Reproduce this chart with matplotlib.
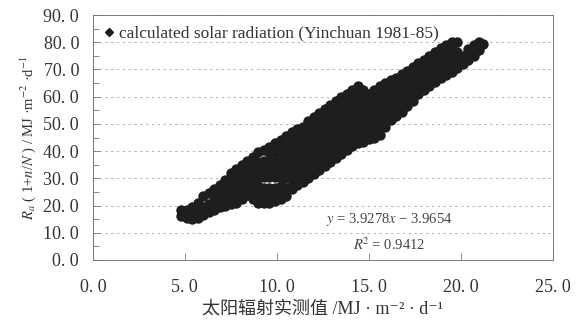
"""Calculated vs measured solar radiation scatter (Yinchuan 1981-85)."""

import matplotlib

matplotlib.use("Agg")
import matplotlib.pyplot as plt
import matplotlib.ticker as mticker

# ── data ─────────────────────────────────────────────────────────────────────
# measured radiation (x) columns and the calculated values read in each column
measured_x = [
    4.8, 5.1, 5.4, 5.7, 6.0, 6.3, 6.6, 6.9, 7.2, 7.5, 7.8, 8.1, 8.4, 8.7,
    9.0, 9.3, 9.6, 9.9, 10.2, 10.5, 10.8, 11.1, 11.4, 11.7, 12.0, 12.3,
    12.6, 12.9, 13.2, 13.5, 13.8, 14.1, 14.4, 14.7, 15.0, 15.3, 15.6, 15.9,
    16.2, 16.5, 16.8, 17.1, 17.4, 17.7, 18.0, 18.3, 18.6, 18.9, 19.2, 19.5,
    19.8, 20.1, 20.4, 20.7, 21.0, 21.2,
]
calculated_y = [
    [16.0, 18.5],
    [15.5, 18.5],
    [15.0, 17.5, 19.5],
    [15.5, 18.0, 21.0],
    [16.5, 19.5, 23.5],
    [17.5, 20.5, 24.5],
    [18.5, 21.5, 24.0, 26.0],
    [19.5, 22.5, 25.0, 27.5],
    [20.0, 23.0, 26.0, 29.5],
    [20.5, 23.5, 26.5, 29.5, 32.0],
    [21.0, 24.0, 27.0, 30.0, 33.5],
    [22.5, 25.5, 28.5, 31.5, 35.0],
    [24.0, 27.0, 30.0, 33.0, 36.5],
    [22.5, 25.5, 28.5, 31.5, 34.5, 38.0],
    [21.0, 24.0, 27.0, 30.0, 33.0, 36.0, 39.5],
    [21.0, 24.0, 26.5, 30.5, 33.5, 36.5, 40.5],
    [21.0, 24.0, 26.5, 30.5, 33.5, 36.5, 39.5, 41.5],
    [21.5, 24.5, 26.5, 30.5, 33.5, 36.5, 39.5, 43.0],
    [22.5, 25.5, 27.0, 30.5, 33.5, 36.5, 39.5, 42.5, 44.0],
    [23.5, 26.5, 30.0, 33.0, 36.0, 39.0, 42.0, 45.5],
    [26.0, 29.5, 32.5, 35.5, 38.5, 41.5, 44.5, 47.0],
    [27.5, 30.5, 33.5, 36.5, 39.5, 42.5, 45.5, 48.0],
    [28.5, 31.5, 34.5, 37.5, 40.5, 43.5, 46.5, 49.0],
    [30.0, 33.0, 36.0, 39.0, 42.0, 45.0, 48.0, 51.0],
    [31.5, 34.5, 37.5, 40.5, 43.5, 46.5, 49.5, 52.5],
    [33.0, 36.0, 39.0, 42.0, 45.0, 48.0, 51.0, 54.0],
    [34.5, 37.5, 40.5, 43.5, 46.5, 49.5, 52.5, 55.5],
    [36.0, 39.0, 42.0, 45.0, 48.0, 51.0, 54.0, 57.0],
    [37.5, 40.5, 43.5, 46.5, 49.5, 52.5, 55.5, 58.5],
    [39.0, 42.0, 45.0, 48.0, 51.0, 54.0, 57.0, 60.0],
    [40.5, 43.5, 46.5, 49.5, 52.5, 55.5, 58.5, 61.0],
    [42.0, 45.0, 48.0, 51.0, 54.0, 57.0, 60.0, 62.5],
    [43.0, 46.0, 49.0, 52.0, 55.0, 58.0, 61.0, 64.0],
    [43.5, 46.5, 49.5, 52.5, 55.5, 58.5, 61.5, 62.5],
    [44.5, 47.5, 50.5, 53.5, 56.5, 59.5, 61.0],
    [45.0, 48.0, 51.0, 54.0, 57.0, 60.0, 62.5],
    [46.0, 49.0, 52.0, 55.0, 58.0, 61.0, 64.0],
    [49.0, 52.0, 55.0, 58.0, 61.0, 63.5, 65.0],
    [51.5, 54.5, 57.5, 60.5, 63.5, 66.0],
    [53.0, 56.0, 59.0, 62.0, 65.0, 67.0],
    [54.5, 57.5, 60.5, 63.5, 66.5, 68.5],
    [56.5, 59.5, 62.5, 65.5, 68.5, 69.5],
    [58.5, 61.5, 64.5, 67.5, 70.0, 71.0],
    [61.0, 64.0, 67.0, 70.0, 72.5],
    [62.5, 65.5, 68.5, 71.5, 73.5],
    [64.0, 67.0, 70.0, 73.0, 75.0],
    [65.5, 68.5, 71.5, 74.5, 76.5],
    [67.0, 70.0, 73.0, 76.0, 78.0],
    [68.0, 71.0, 74.0, 77.0, 79.0],
    [69.0, 72.0, 75.0, 78.0, 80.0],
    [70.5, 73.5, 76.5, 80.0],
    [72.0, 75.0],
    [73.5, 76.0, 77.5],
    [75.0, 78.0, 79.0],
    [77.0, 80.0],
    [79.5],
]

x_ticks = [0, 5, 10, 15, 20, 25]
y_ticks = [0, 10, 20, 30, 40, 50, 60, 70, 80, 90]
fit_text = "$y$ = 3.9278$x$ \u2212 3.9654"
r2_text = "$R$$^2$ = 0.9412"

# ── figure ───────────────────────────────────────────────────────────────────
plt.rcParams["mathtext.fontset"] = "stix"
SERIF = "Liberation Serif"
MIXED = ["Liberation Serif", "Noto Sans CJK SC", "DejaVu Serif"]
INK = "#1e1e1e"

xs: list[float] = []
ys: list[float] = []
for x, col in zip(measured_x, calculated_y):
    for y in col:
        xs.append(x)
        ys.append(y)

fig = plt.figure(figsize=(5.88, 3.27), dpi=100)
ax = fig.add_axes([0.158, 0.205, 0.782, 0.749])

ax.plot(xs, ys, linestyle="none", marker="o", markersize=7.5,
        color=INK, markeredgewidth=0)

ax.set_xlim(0, 25)
ax.set_ylim(0, 90)
ax.set_xticks(x_ticks)
ax.set_yticks(y_ticks)
ax.yaxis.set_minor_locator(mticker.MultipleLocator(5))
fmt = mticker.FuncFormatter(lambda v, _: f"{v:.1f}".replace(".", ". "))
ax.xaxis.set_major_formatter(fmt)
ax.yaxis.set_major_formatter(fmt)
ax.tick_params(axis="both", which="both", direction="in", colors="#777777",
               labelcolor="#333333", labelsize=13)
ax.tick_params(axis="both", which="major", length=5, width=0.6)
ax.tick_params(axis="y", which="minor", length=4, width=0.6)
ax.tick_params(axis="x", pad=14)
ax.tick_params(axis="y", pad=10)
for lab in ax.get_xticklabels() + ax.get_yticklabels():
    lab.set_fontfamily(SERIF)

for s in ax.spines.values():
    s.set_color("#777777")
    s.set_linewidth(0.7)

ax.yaxis.grid(True, linestyle=(0, (3, 4)), color="#aaaaaa", linewidth=0.6)
ax.set_axisbelow(True)

# legend
ax.plot([], [], linestyle="none", marker="D", markersize=4, color=INK,
        label="calculated solar radiation (Yinchuan 1981-85)")
leg = ax.legend(loc="upper left", frameon=False, handlelength=0.6, handletextpad=0.3,
                borderaxespad=0.2, prop={"family": SERIF, "size": 12.5})
for t in leg.get_texts():
    t.set_color("#333333")

ax.text(16.1, 14.7, fit_text, ha="center", va="center", fontsize=10.5,
        color="#444444", family=SERIF)
ax.text(16.1, 5.5, r2_text, ha="center", va="center", fontsize=10.5,
        color="#444444", family=SERIF)

# plain unicode superscripts so the CJK fallback list still applies
ax.set_xlabel("太阳辐射实测值 /MJ · m\u207b\u00b2 · d\u207b\u00b9", family=MIXED,
              fontsize=13, color="#333333", labelpad=3)
ax.set_ylabel("$R_a$ ( 1+$n$/$N$ ) / MJ ·m$^{-2}$ ·d$^{-1}$", family=SERIF,
              fontsize=10.5, color="#333333", labelpad=4)

fig.savefig("out.png", dpi=100)
plt.close(fig)
